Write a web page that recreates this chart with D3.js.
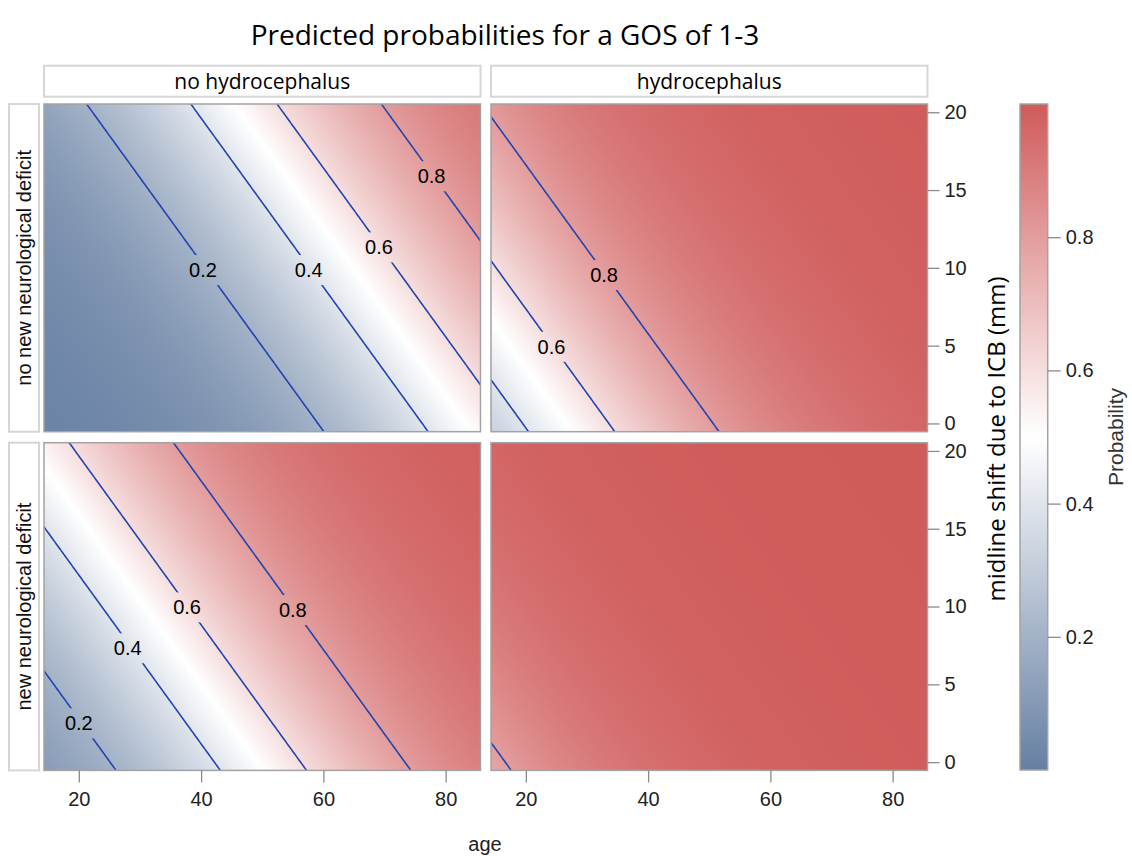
<!DOCTYPE html>
<html><head><meta charset="utf-8">
<script src="https://cdn.jsdelivr.net/npm/d3@7"></script>
<style>body{margin:0;background:#fff} svg{display:block}</style>
</head><body>
<svg id="chart" width="1132" height="856"></svg>
<script>
// ---------------- data ----------------
const colCategories = ["no hydrocephalus", "hydrocephalus"];
const rowCategories = ["no new neurological deficit", "new neurological deficit"];
const ageDomain = [14.3, 85.7];
const shiftDomain = [-0.53, 20.53];
const ageTicks = [20, 40, 60, 80];
const shiftTicks = [0, 5, 10, 15, 20];
const probTicks = [0.2, 0.4, 0.6, 0.8];
const probDomain = [0.0, 1.0];
const contourLevels = [0.2, 0.4, 0.6, 0.8];
const coefTerms = ["intercept", "age", "midline shift", "hydrocephalus", "new neurological deficit"];
const coefValues = [-4.785, 0.0575, 0.106, 3.26, 1.955];
// contour labels
const labelRow = [0, 0, 0, 0, 0, 0, 1, 1, 1, 1];
const labelCol = [0, 0, 0, 0, 1, 1, 0, 0, 0, 0];
const labelText = ["0.2", "0.4", "0.6", "0.8", "0.8", "0.6", "0.6", "0.8", "0.4", "0.2"];
const labelAge = [40.3, 57.6, 69.1, 77.7, 32.8, 24.2, 37.7, 55.0, 28.0, 20.0];
const labelShift = [9.87, 9.87, 11.33, 15.9, 9.55, 4.94, 9.96, 9.79, 7.33, 2.51];
const rampColors = ["#667FA2", "#FFFFFF", "#D05B5B"];

// ---------------- layout ----------------
const colX = [44, 491], panelW = 436.5;
const rowY = [104, 442.7], panelH = 327.7;
const svg = d3.select("#chart");
const defs = svg.append("defs");
const sans = "'Liberation Sans', Arial, sans-serif";
const open = "'Open Sans', 'Noto Sans', sans-serif";

function prob(age, shift, hydro, deficit) {
  const eta = coefValues[0] + coefValues[1] * age + coefValues[2] * shift +
              coefValues[3] * hydro + coefValues[4] * deficit;
  return 1 / (1 + Math.exp(-eta));
}

const color = d3.scaleLinear()
  .domain([probDomain[0], (probDomain[0] + probDomain[1]) / 2, probDomain[1]])
  .range(rampColors).interpolate(d3.interpolateRgb).clamp(true);

// title
svg.append("text").attr("x", 505).attr("y", 45).attr("text-anchor", "middle")
  .style("font-family", open).style("font-size", "28px").attr("fill", "#000")
  .text("Predicted probabilities for a GOS of 1-3");

const xScales = colX.map(x0 => d3.scaleLinear().domain(ageDomain).range([x0, x0 + panelW]));
const yScales = rowY.map(y0 => d3.scaleLinear().domain(shiftDomain).range([y0 + panelH, y0]));

// column strips
colCategories.forEach((c, i) => {
  svg.append("rect").attr("x", colX[i]).attr("y", 65.7).attr("width", panelW).attr("height", 31)
    .attr("fill", "#fff").attr("stroke", "#d6d6d6").attr("stroke-width", 2);
  svg.append("text").attr("x", colX[i] + panelW / 2).attr("y", 81.5).attr("dy", "0.35em")
    .attr("text-anchor", "middle").style("font-family", open).style("font-size", "21px")
    .attr("fill", "#000").text(c);
});
// row strips
rowCategories.forEach((r, j) => {
  svg.append("rect").attr("x", 9).attr("y", rowY[j]).attr("width", 30).attr("height", panelH)
    .attr("fill", "#fff").attr("stroke", "#d6d6d6").attr("stroke-width", 2);
  svg.append("text").attr("transform", `translate(24,${rowY[j] + panelH / 2}) rotate(-90)`)
    .attr("dy", "0.35em").attr("text-anchor", "middle").style("font-family", sans)
    .style("font-size", "20px").attr("fill", "#111").text(r);
});

// grid for contours (extended beyond panel, then clipped)
const nx = 260, ny = 140;
const gAge = [ageDomain[0] - 4, ageDomain[1] + 4];
const gShift = [shiftDomain[0] - 2, shiftDomain[1] + 2];
const gxToAge = d3.scaleLinear().domain([0.5, nx - 0.5]).range(gAge);
const gyToShift = d3.scaleLinear().domain([0.5, ny - 0.5]).range(gShift);

rowCategories.forEach((r, j) => {
  colCategories.forEach((c, i) => {
    const xs = xScales[i], ys = yScales[j];
    const hydro = i, deficit = j;
    const x0 = colX[i], y0 = rowY[j];
    const pid = `p${j}${i}`;

    // heat map raster
    const W = Math.round(panelW), H = Math.round(panelH);
    const cv = document.createElement("canvas");
    cv.width = W; cv.height = H;
    const ctx = cv.getContext("2d");
    const img = ctx.createImageData(W, H);
    for (let py = 0; py < H; py++) {
      const sh = ys.invert(y0 + (py + 0.5) * panelH / H);
      for (let px = 0; px < W; px++) {
        const ag = xs.invert(x0 + (px + 0.5) * panelW / W);
        const col = d3.rgb(color(prob(ag, sh, hydro, deficit)));
        const k = (py * W + px) * 4;
        img.data[k] = col.r; img.data[k + 1] = col.g; img.data[k + 2] = col.b; img.data[k + 3] = 255;
      }
    }
    ctx.putImageData(img, 0, 0);
    svg.append("image").attr("x", x0).attr("y", y0).attr("width", panelW).attr("height", panelH)
      .attr("preserveAspectRatio", "none").attr("href", cv.toDataURL());

    // clip
    defs.append("clipPath").attr("id", "clip" + pid).append("rect")
      .attr("x", x0).attr("y", y0).attr("width", panelW).attr("height", panelH);

    // labels (drawn first into a group to measure)
    const labG = svg.append("g");
    const idx = d3.range(labelText.length).filter(k => labelRow[k] === j && labelCol[k] === i);
    const boxes = [];
    idx.forEach(k => {
      const t = labG.append("text").attr("x", xs(labelAge[k])).attr("y", ys(labelShift[k]))
        .attr("dy", "0.36em").attr("text-anchor", "middle").style("font-family", sans)
        .style("font-size", "20px").attr("fill", "#000").text(labelText[k]);
      boxes.push(t.node().getBBox());
    });

    // mask for label gaps
    const mask = defs.append("mask").attr("id", "mask" + pid).attr("maskUnits", "userSpaceOnUse")
      .attr("x", 0).attr("y", 0).attr("width", 1132).attr("height", 856);
    mask.append("rect").attr("x", 0).attr("y", 0).attr("width", 1132).attr("height", 856).attr("fill", "#fff");
    boxes.forEach(b => {
      mask.append("rect").attr("x", b.x - 2).attr("y", b.y - 4).attr("width", b.width + 4)
        .attr("height", b.height + 8).attr("fill", "#000");
    });

    // contours
    const values = new Array(nx * ny);
    for (let gy = 0; gy < ny; gy++) {
      const sh = gyToShift(gy + 0.5);
      for (let gx = 0; gx < nx; gx++) {
        values[gy * nx + gx] = prob(gxToAge(gx + 0.5), sh, hydro, deficit);
      }
    }
    const contours = d3.contours().size([nx, ny]).thresholds(contourLevels)(values);
    const proj = d3.geoTransform({
      point: function (gx, gy) { this.stream.point(xs(gxToAge(gx)), ys(gyToShift(gy))); }
    });
    const path = d3.geoPath(proj);
    svg.append("g").attr("clip-path", `url(#clip${pid})`)
      .append("g").attr("mask", `url(#mask${pid})`)
      .selectAll("path").data(contours).join("path")
      .attr("d", path).attr("fill", "none").attr("stroke", "#2443B0").attr("stroke-width", 1.6);

    labG.raise();

    // panel frame
    svg.append("rect").attr("x", x0).attr("y", y0).attr("width", panelW).attr("height", panelH)
      .attr("fill", "none").attr("stroke", "#a3a3a3").attr("stroke-width", 1.5);
  });
});

function styleAxis(g) {
  g.select(".domain").remove();
  g.selectAll(".tick line").attr("stroke", "#8a8a8a").attr("stroke-width", 1.3);
  g.selectAll(".tick text").style("font-family", sans).style("font-size", "20px").attr("fill", "#222");
}

// x axes
xScales.forEach(xs => {
  svg.append("g").attr("transform", `translate(0,${rowY[1] + panelH})`)
    .call(d3.axisBottom(xs).tickValues(ageTicks).tickSize(12).tickPadding(9).tickFormat(d3.format("d")))
    .call(styleAxis);
});
// y axes (right side)
yScales.forEach(ys => {
  svg.append("g").attr("transform", `translate(${colX[1] + panelW},0)`)
    .call(d3.axisRight(ys).tickValues(shiftTicks).tickSize(12).tickPadding(5).tickFormat(d3.format("d")))
    .call(styleAxis);
});

svg.append("text").attr("x", 485).attr("y", 851).attr("text-anchor", "middle")
  .style("font-family", sans).style("font-size", "20px").attr("fill", "#222").text("age");
svg.append("text").attr("transform", "translate(997,439) rotate(-90)").attr("dy", "0.35em")
  .attr("text-anchor", "middle").style("font-family", open).style("font-size", "24px")
  .attr("fill", "#000").text("midline shift due to ICB (mm)");

// color bar
const cbX = 1020, cbW = 27.7, cbTop = 104, cbBot = 770;
const cbScale = d3.scaleLinear().domain(probDomain).range([cbBot, cbTop]);
const grad = defs.append("linearGradient").attr("id", "cbgrad")
  .attr("x1", 0).attr("y1", 1).attr("x2", 0).attr("y2", 0);
d3.range(0, 1.0001, 0.05).forEach(t => {
  const v = probDomain[0] + t * (probDomain[1] - probDomain[0]);
  grad.append("stop").attr("offset", t).attr("stop-color", color(v));
});
svg.append("rect").attr("x", cbX).attr("y", cbTop).attr("width", cbW).attr("height", cbBot - cbTop)
  .attr("fill", "url(#cbgrad)").attr("stroke", "#a3a3a3").attr("stroke-width", 1.5);
svg.append("g").attr("transform", `translate(${cbX + cbW},0)`)
  .call(d3.axisRight(cbScale).tickValues(probTicks).tickSize(13).tickPadding(5).tickFormat(d3.format(".1f")))
  .call(styleAxis);
svg.append("text").attr("transform", "translate(1116,437) rotate(-90)").attr("dy", "0.35em")
  .attr("text-anchor", "middle").style("font-family", sans).style("font-size", "21px")
  .attr("fill", "#333").text("Probability");
</script>
</body></html>
